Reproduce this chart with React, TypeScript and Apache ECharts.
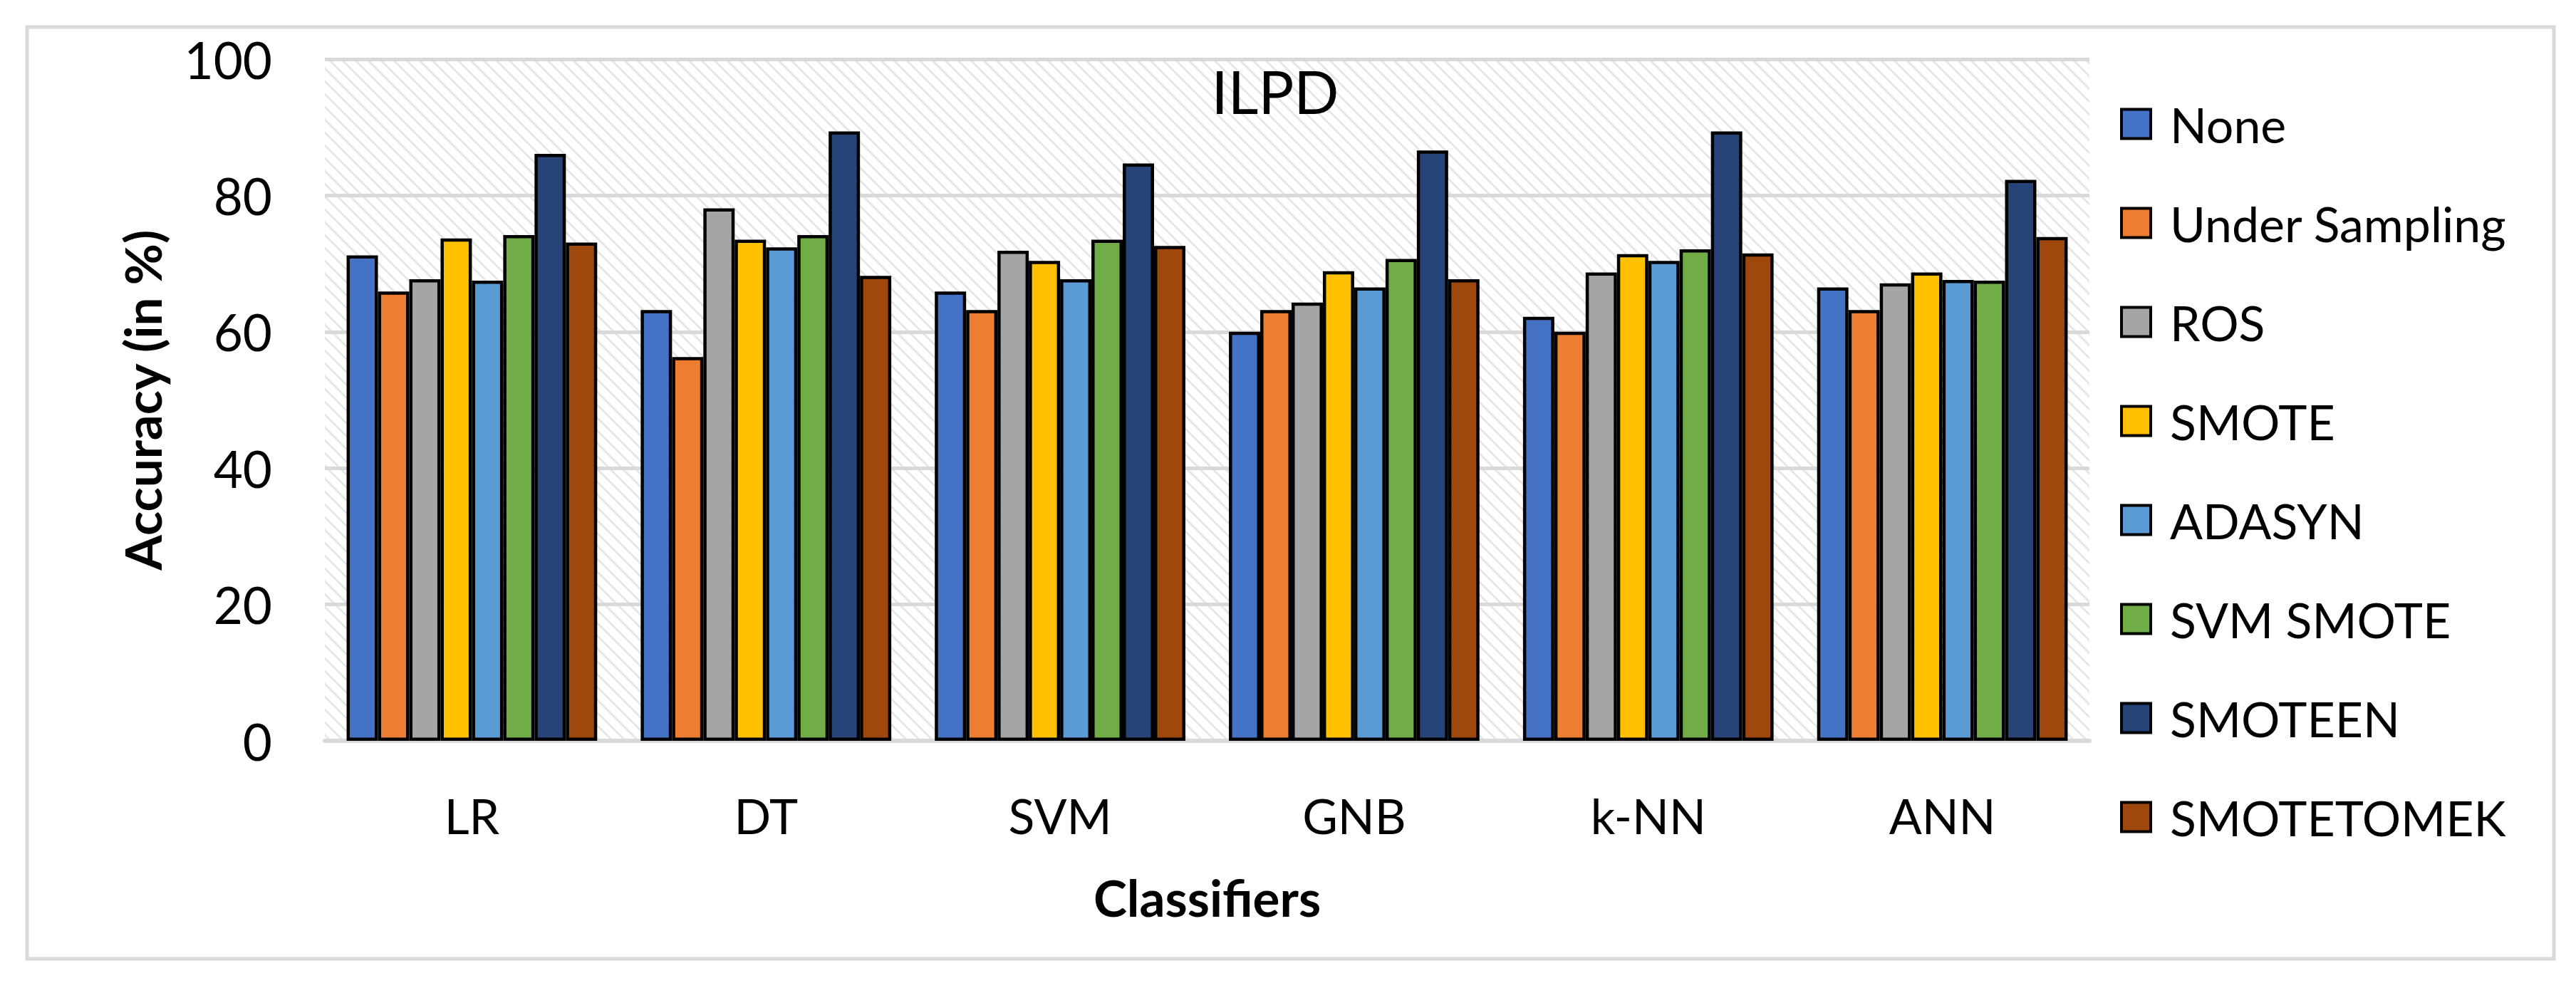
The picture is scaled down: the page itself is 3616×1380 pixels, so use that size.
import React, { useEffect, useRef } from "react";
import * as echarts from "echarts";

const categories = ["LR", "DT", "SVM", "GNB", "k-NN", "ANN"];
const seriesNames = ["None", "Under Sampling", "ROS", "SMOTE", "ADASYN", "SVM SMOTE", "SMOTEEN", "SMOTETOMEK"];
const none = [71.2, 63.2, 65.9, 60.0, 62.2, 66.5];
const underSampling = [65.9, 56.3, 63.2, 63.2, 60.0, 63.2];
const ros = [67.7, 78.1, 71.9, 64.3, 68.7, 67.1];
const smote = [73.7, 73.5, 70.4, 68.9, 71.4, 68.7];
const adasyn = [67.5, 72.4, 67.7, 66.5, 70.4, 67.6];
const svmSmote = [74.2, 74.2, 73.5, 70.7, 72.1, 67.5];
const smoteen = [86.1, 89.4, 84.7, 86.6, 89.4, 82.3];
const smotetomek = [73.1, 68.2, 72.6, 67.7, 71.5, 73.9];
const seriesValues = [none, underSampling, ros, smote, adasyn, svmSmote, smoteen, smotetomek];
const seriesColors = ["#4472C4", "#ED7D31", "#A5A5A5", "#FFC000", "#5B9BD5", "#70AD47", "#264478", "#9E480E"];
const yTicks = { min: 0, max: 100, interval: 20 };

const FONT = "Lato, 'Open Sans', sans-serif";

function makeHatch() {
  const size = 18;
  const c = document.createElement("canvas");
  c.width = size;
  c.height = size;
  const ctx = c.getContext("2d");
  if (ctx) {
    ctx.fillStyle = "#ffffff";
    ctx.fillRect(0, 0, size, size);
    ctx.strokeStyle = "#e6e6e6";
    ctx.lineWidth = 3;
    for (let k = -1; k <= 1; k++) {
      ctx.beginPath();
      ctx.moveTo(-3, -3 + size * k);
      ctx.lineTo(size + 3, size + 3 + size * k);
      ctx.stroke();
    }
  }
  return c;
}

export default function App() {
  const ref = useRef<HTMLDivElement>(null);
  useEffect(() => {
    document.body.style.margin = "0";
    document.body.style.overflow = "hidden";
    if (!ref.current) return;
    const chart = echarts.init(ref.current, null, { renderer: "svg" });
    const hatch = { image: makeHatch(), repeat: "repeat" };
    chart.setOption({
      animation: false,
      backgroundColor: "#ffffff",
      textStyle: { fontFamily: FONT },
      grid: {
        left: 456,
        right: 683,
        top: 83,
        bottom: 340,
        show: true,
        backgroundColor: hatch,
        borderWidth: 0,
      },
      legend: {
        orient: "vertical",
        left: 2971,
        top: 134,
        icon: "rect",
        itemWidth: 41,
        itemHeight: 41,
        itemGap: 69,
        data: seriesNames,
        itemStyle: { borderColor: "#000000", borderWidth: 4 },
        textStyle: {
          fontFamily: FONT,
          fontSize: 68,
          color: "#000000",
          lineHeight: 70,
          padding: [0, 0, 0, 22],
        },
      },
      xAxis: {
        type: "category",
        data: categories,
        name: "Classifiers",
        nameLocation: "middle",
        nameGap: 184,
        nameTextStyle: { fontFamily: FONT, fontSize: 71, fontWeight: "bold", color: "#000000" },
        axisLine: { show: true, lineStyle: { color: "#d9d9d9", width: 6 } },
        axisTick: { show: false },
        axisLabel: { margin: 70, fontFamily: FONT, fontSize: 68, color: "#000000" },
        splitLine: { show: false },
      },
      yAxis: {
        type: "value",
        min: yTicks.min,
        max: yTicks.max,
        interval: yTicks.interval,
        name: "Accuracy (in %)",
        nameLocation: "middle",
        nameRotate: 90,
        nameGap: 221,
        nameTextStyle: { fontFamily: FONT, fontSize: 71, fontWeight: "bold", color: "#000000" },
        axisLine: { show: false },
        axisTick: { show: false },
        axisLabel: { margin: 74, fontFamily: FONT, fontSize: 71, color: "#000000" },
        splitLine: { show: true, lineStyle: { color: "#d9d9d9", width: 5 } },
      },
      series: seriesNames.map((name, i) => ({
        name,
        type: "bar",
        data: seriesValues[i],
        barGap: "0%",
        barCategoryGap: "14.8%",
        itemStyle: { color: seriesColors[i], borderColor: "#000000", borderWidth: 4.5 },
      })),
      graphic: [
        {
          type: "rect",
          z: -10,
          shape: { x: 38, y: 38, width: 3547, height: 1308 },
          style: { fill: "none", stroke: "#d9d9d9", lineWidth: 5 },
        },
        {
          type: "text",
          z: 100,
          x: 1790,
          y: 128,
          style: {
            text: "ILPD",
            fontFamily: FONT,
            fontSize: 83,
            fill: "#000000",
            align: "center",
            verticalAlign: "middle",
            textAlign: "center",
            textVerticalAlign: "middle",
          },
        },
      ],
    });
    return () => chart.dispose();
  }, []);
  return <div ref={ref} style={{ width: 3616, height: 1380 }} />;
}
